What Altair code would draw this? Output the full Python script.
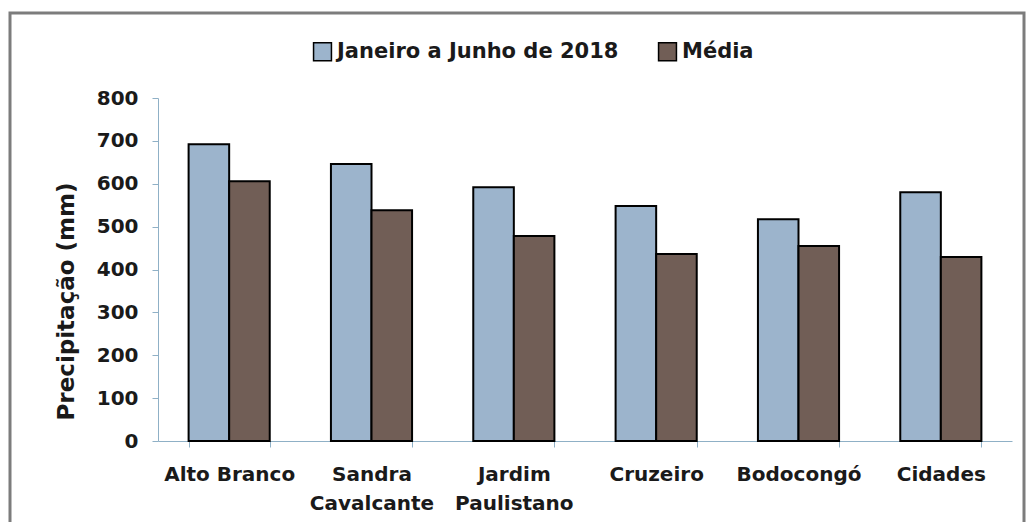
import altair as alt
import pandas as pd

categories = ["Alto Branco", "Sandra\nCavalcante", "Jardim\nPaulistano", "Cruzeiro", "Bodocongó", "Cidades"]
series = ["Janeiro a Junho de 2018", "Média"]
jan_jun_2018 = [692, 646, 592, 548, 517, 580]
media = [606, 538, 478, 436, 455, 429]

rows = []
for c, a, b in zip(categories, jan_jun_2018, media):
    rows.append({"local": c, "serie": series[0], "valor": a})
    rows.append({"local": c, "serie": series[1], "valor": b})
df = pd.DataFrame(rows)

FONT = "DejaVu Sans"
AXIS_COLOR = "#8fb0c6"
TXT = "#1a1a1a"

bars = alt.Chart(df).mark_bar(stroke="black", strokeWidth=2).encode(
    x=alt.X("local:N", sort=categories, title=None,
            scale=alt.Scale(paddingInner=0.43, paddingOuter=0.215),
            axis=alt.Axis(labelExpr="split(datum.label, '\\n')", labelAngle=0,
                          labelFontSize=20, labelFont=FONT, labelColor=TXT,
                          labelFontWeight="bold",
                          labelPadding=17, labelLineHeight=29, tickBand="extent",
                          domainColor=AXIS_COLOR, tickColor=AXIS_COLOR, tickSize=6,
                          labelBaseline="top")),
    xOffset=alt.XOffset("serie:N", sort=series),
    y=alt.Y("valor:Q", title="Precipitação (mm)",
            scale=alt.Scale(domain=[0, 800], nice=False),
            axis=alt.Axis(values=list(range(0, 801, 100)), grid=False,
                          labelFontSize=20, labelFont=FONT, labelColor=TXT,
                          labelFontWeight="bold",
                          labelPadding=14, tickSize=6,
                          domainColor=AXIS_COLOR, tickColor=AXIS_COLOR,
                          titleFont=FONT, titleFontSize=23, titleFontWeight="bold",
                          titleColor=TXT, titlePadding=18, titleY=203)),
    color=alt.Color("serie:N", sort=series,
                    scale=alt.Scale(domain=series, range=["#9cb4cc", "#715e56"]),
                    legend=alt.Legend(title=None, orient="none", direction="horizontal",
                                      legendX=154, legendY=-57,
                                      symbolType="square", symbolSize=320,
                                      symbolStrokeColor="black", symbolStrokeWidth=1.5,
                                      symbolOpacity=1, labelLimit=500,
                                      labelFont=FONT, labelFontSize=21, labelColor=TXT,
                                      labelFontWeight="bold",
                                      columnPadding=36, labelOffset=4)),
)

frame = alt.Chart(pd.DataFrame({"f": [0]})).mark_rect(
    fill=None, stroke="#7c7c7c", strokeWidth=3
).encode(
    x=alt.value(-148), x2=alt.value(866), y=alt.value(-85), y2=alt.value(428)
)

chart = alt.layer(frame, bars).properties(
    width=854, height=343,
    padding={"left": 8, "top": 11, "right": 5, "bottom": 5},
    background="white",
).configure_view(stroke=None)

chart.save("out.html", embed_options={"renderer": "svg", "actions": False})
